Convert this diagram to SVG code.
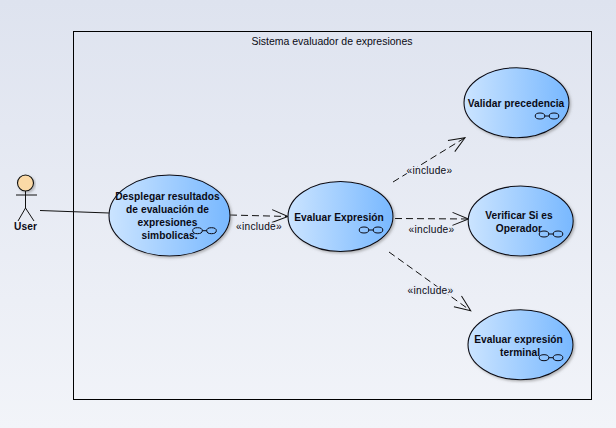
<svg xmlns="http://www.w3.org/2000/svg" width="616" height="428" viewBox="0 0 616 428">
<style>
text{font-family:"Liberation Sans",sans-serif;fill:#0a0a14}
.n{font-weight:bold;text-anchor:middle;font-size:10.2px;letter-spacing:.05px}
.l{font-size:10.200px;text-anchor:middle;letter-spacing:.25px;paint-order:stroke;stroke:#e8ecf5;stroke-width:3px}
.uc{fill:url(#uc);stroke:#0a0a14;stroke-width:1.100;filter:url(#sh)}
.ic{fill:none;stroke:#0a0a14;stroke-width:1}
.d{fill:none;stroke:#111;stroke-width:1;stroke-dasharray:7 4;marker-end:url(#a)}
</style>
<defs>
<linearGradient id="bg" x1="0" y1="0" x2="0" y2="1"><stop offset="0" stop-color="#dee3ef"/><stop offset="1" stop-color="#f2f4f9"/></linearGradient>
<linearGradient id="uc" x1="0" y1="0" x2="1" y2="0"><stop offset="0" stop-color="#cbe4ff"/><stop offset="1" stop-color="#78b8ff"/></linearGradient>
<filter id="sh" x="-10%" y="-10%" width="125%" height="125%"><feDropShadow dx="1.500" dy="1.500" stdDeviation="1" flood-color="#777" flood-opacity=".5"/></filter>
<marker id="a" markerUnits="userSpaceOnUse" markerWidth="20" markerHeight="18" refX="18" refY="8" orient="auto" overflow="visible"><path d="M2,1.500 L18,8 L2,14.500" fill="none" stroke="#111" stroke-width="1" stroke-dasharray="none"/></marker>
<g id="icon"><ellipse class="ic" cx="0" cy="0" rx="4.800" ry="3"/><ellipse class="ic" cx="14" cy="0" rx="4.800" ry="3"/><path class="ic" d="M4.800,0H9.200"/></g>
</defs>
<rect width="616" height="428" fill="url(#bg)"/>
<g id="system">
<rect x="73.500" y="31.500" width="518" height="368" fill="none" stroke="#000" stroke-width="1"/>
<text x="332" y="45" text-anchor="middle" style="font-size:10.500px">Sistema evaluador de expresiones</text>
</g>
<g id="connectors">
<path d="M40,210.500L109,213" fill="none" stroke="#111" stroke-width="1"/>
<path class="d" d="M230,215L288,216.500"/>
<path class="d" d="M393,182L465,137.700"/>
<path class="d" d="M395,218.500L468.500,219"/>
<path class="d" d="M389,252L470.700,310.700"/>
<text class="l" x="259" y="229.500">«include»</text>
<text class="l" x="429.500" y="173.500">«include»</text>
<text class="l" x="431.500" y="232.500">«include»</text>
<text class="l" x="430.500" y="294">«include»</text>
</g>
<g id="user">
<circle cx="25.500" cy="183" r="8" fill="#fbd9a6" stroke="#111" stroke-width="1.100" filter="url(#sh)"/>
<path d="M25.500,191V208M16,195H37M18,221L25.500,208L34,221" fill="none" stroke="#111" stroke-width="1"/>
<text class="n" x="25.500" y="230">User</text>
</g>
<g id="desplegar">
<ellipse class="uc" cx="169.500" cy="215.500" rx="60.500" ry="40.500"/>
<text class="n" x="167.500" y="199.500">Desplegar resultados</text>
<text class="n" x="167.500" y="212.500">de evaluación de</text>
<text class="n" x="167.500" y="226">expresiones</text>
<text class="n" x="169.500" y="238.500">simbolicas.</text>
<use href="#icon" x="197.500" y="230.700"/>
</g>
<g id="evaluar">
<ellipse class="uc" cx="340.500" cy="216.500" rx="52.500" ry="35"/>
<text class="n" x="339" y="220.500">Evaluar Expresión</text>
<use href="#icon" x="364" y="230"/>
</g>
<g id="validar">
<ellipse class="uc" cx="516.500" cy="102.700" rx="52.500" ry="35"/>
<text class="n" x="516" y="106.500">Validar precedencia</text>
<use href="#icon" x="540" y="116"/>
</g>
<g id="verificar">
<ellipse class="uc" cx="520.700" cy="221" rx="52.500" ry="35"/>
<text class="n" x="519" y="219">Verificar Si es</text>
<text class="n" x="519" y="232">Operador</text>
<use href="#icon" x="544" y="234"/>
</g>
<g id="terminal">
<ellipse class="uc" cx="520.500" cy="344.700" rx="52.500" ry="35"/>
<text class="n" x="518.500" y="342.500">Evaluar expresión</text>
<text class="n" x="520" y="355.500">terminal</text>
<use href="#icon" x="544" y="357.700"/>
</g>
</svg>
